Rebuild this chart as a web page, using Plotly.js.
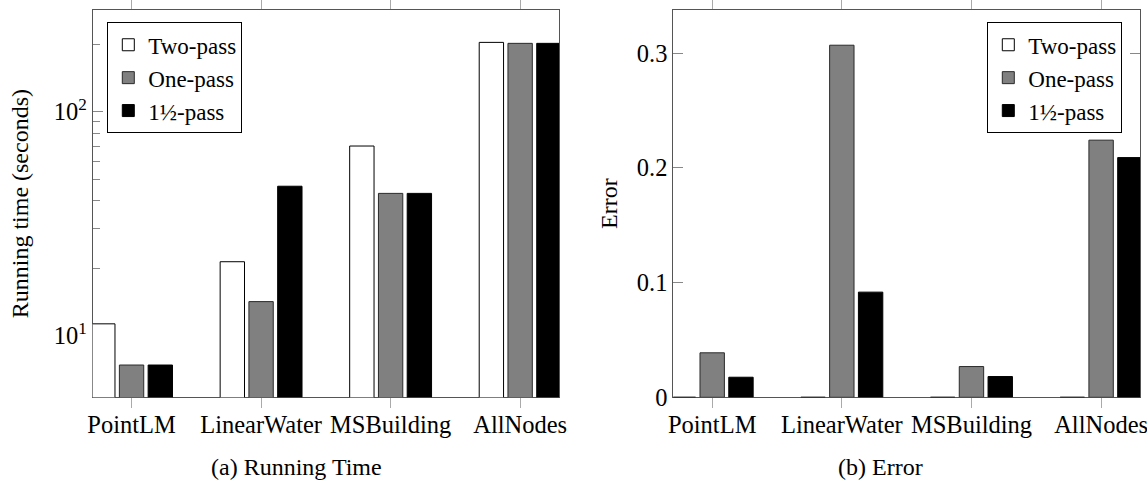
<!DOCTYPE html>
<html>
<head>
<meta charset="utf-8">
<script src="https://cdn.plot.ly/plotly-3.0.1.min.js"></script>
<style>
  html, body { margin: 0; padding: 0; background: #fff; }
  #chart { width: 1147px; height: 481px; }
</style>
</head>
<body>
<div id="chart"></div>
<script>
// ---- data ----
const categories = ['PointLM', 'LinearWater', 'MSBuilding', 'AllNodes'];
const seriesNames = ['Two-pass', 'One-pass', '1½-pass'];

// (a) Running time (seconds), log scale
const timeTwoPass = [11.3, 21.4, 70.3, 204];
const timeOnePass = [7.4, 14.2, 43.2, 202];
const timeOneHalfPass = [7.4, 46.5, 43.2, 202];

// (b) Error
const errTwoPass = [0, 0, 0, 0];
const errOnePass = [0.0388, 0.307, 0.0268, 0.2242];
const errOneHalfPass = [0.0175, 0.0917, 0.0181, 0.209];

// tick values / labels
const timeTickVals = [10, 100];
const timeTickText = ['10<sup>1</sup>', '10<sup>2</sup>'];
const timeMinorTickVals = [6, 7, 8, 9, 20, 30, 40, 50, 60, 70, 80, 90, 200];
const errTickVals = [0, 0.1, 0.2, 0.3];
const errTickText = ['0', '0.1', '0.2', '0.3'];

const captionA = '(a) Running Time';
const captionB = '(b) Error';

// ---- styles ----
const FONT = 'Liberation Serif, Times New Roman, serif';
const styles = [
  { fill: '#ffffff', line: '#000000' },
  { fill: '#808080', line: '#2a2a2a' },
  { fill: '#000000', line: '#000000' }
];

function mkBar(y, i, xa, ya, legend) {
  return {
    type: 'bar',
    x: categories,
    y: y,
    name: seriesNames[i],
    xaxis: xa,
    yaxis: ya,
    legend: legend,
    marker: { color: styles[i].fill, line: { color: styles[i].line, width: 1 } },
    hoverinfo: 'skip'
  };
}

const data = [
  mkBar(timeTwoPass, 0, 'x', 'y', 'legend'),
  mkBar(timeOnePass, 1, 'x', 'y', 'legend'),
  mkBar(timeOneHalfPass, 2, 'x', 'y', 'legend'),
  mkBar(errTwoPass, 0, 'x2', 'y2', 'legend2'),
  mkBar(errOnePass, 1, 'x2', 'y2', 'legend2'),
  mkBar(errOneHalfPass, 2, 'x2', 'y2', 'legend2')
];

const W = 1147, H = 481;
const plotTop = 10, plotBottom = 397.3;
const yDom = [1 - plotBottom / H, 1 - plotTop / H];

const xCommon = {
  type: 'category',
  range: [-0.3, 3.3],
  layer: 'below traces',
  showline: true, linecolor: '#555', linewidth: 1, mirror: 'ticks',
  ticks: 'outside', ticklen: 10, tickwidth: 1, tickcolor: '#aaa',
  ticklabelstandoff: -5,
  tickfont: { family: FONT, size: 24.5, color: '#000' },
  showgrid: false, zeroline: false, fixedrange: true
};
const yCommon = {
  layer: 'below traces',
  showline: true, linecolor: '#555', linewidth: 1, mirror: 'ticks',
  ticks: 'inside', ticklen: 10, tickwidth: 1, tickcolor: '#888',
  tickfont: { family: FONT, size: 24.5, color: '#000' },
  showgrid: false, zeroline: false, fixedrange: true,
  tickmode: 'array'
};

const legendCommon = {
  bgcolor: '#ffffff', bordercolor: '#000', borderwidth: 1,
  font: { family: FONT, size: 23, color: '#000' },
  xanchor: 'left', yanchor: 'top', traceorder: 'normal',
  itemclick: false, itemdoubleclick: false
};

const layout = {
  width: W, height: H,
  margin: { l: 0, r: 0, t: 0, b: 0 },
  paper_bgcolor: '#fff', plot_bgcolor: '#fff',
  barmode: 'group', bargap: 0.334, bargroupgap: 0.153,
  font: { family: FONT, size: 24, color: '#000' },
  xaxis: Object.assign({}, xCommon, { domain: [92.7 / W, 559 / W], anchor: 'y' }),
  xaxis2: Object.assign({}, xCommon, { domain: [673.3 / W, 1140 / W], anchor: 'y2' }),
  yaxis: Object.assign({}, yCommon, {
    type: 'log', domain: yDom, anchor: 'x',
    range: [Math.log10(5.31), Math.log10(284.6)],
    tickvals: timeTickVals, ticktext: timeTickText,
    minor: { tickmode: 'array', tickvals: timeMinorTickVals, ticks: 'inside', ticklen: 7, tickcolor: '#888', showgrid: false },
    title: { text: 'Running time (seconds)', font: { family: FONT, size: 24, color: '#000' }, standoff: 18 }
  }),
  yaxis2: Object.assign({}, yCommon, {
    type: 'linear', domain: yDom, anchor: 'x2',
    range: [0, 0.3377],
    tickvals: errTickVals, ticktext: errTickText,
    title: { text: 'Error', font: { family: FONT, size: 24, color: '#000' }, standoff: 12 }
  }),
  legend: Object.assign({}, legendCommon, { x: 107.3 / W, y: 1 - 22.3 / H }),
  legend2: Object.assign({}, legendCommon, { x: 987.3 / W, y: 1 - 22.3 / H }),
  annotations: [
    { text: captionA, xref: 'paper', yref: 'paper', x: 296 / W, y: 1 - 466.7 / H,
      xanchor: 'center', yanchor: 'middle', showarrow: false,
      font: { family: FONT, size: 24, color: '#000' } },
    { text: captionB, xref: 'paper', yref: 'paper', x: 880.7 / W, y: 1 - 466.7 / H,
      xanchor: 'center', yanchor: 'middle', showarrow: false,
      font: { family: FONT, size: 24, color: '#000' } }
  ]
};

Plotly.newPlot('chart', data, layout, { staticPlot: true, displayModeBar: false });
</script>
</body>
</html>
